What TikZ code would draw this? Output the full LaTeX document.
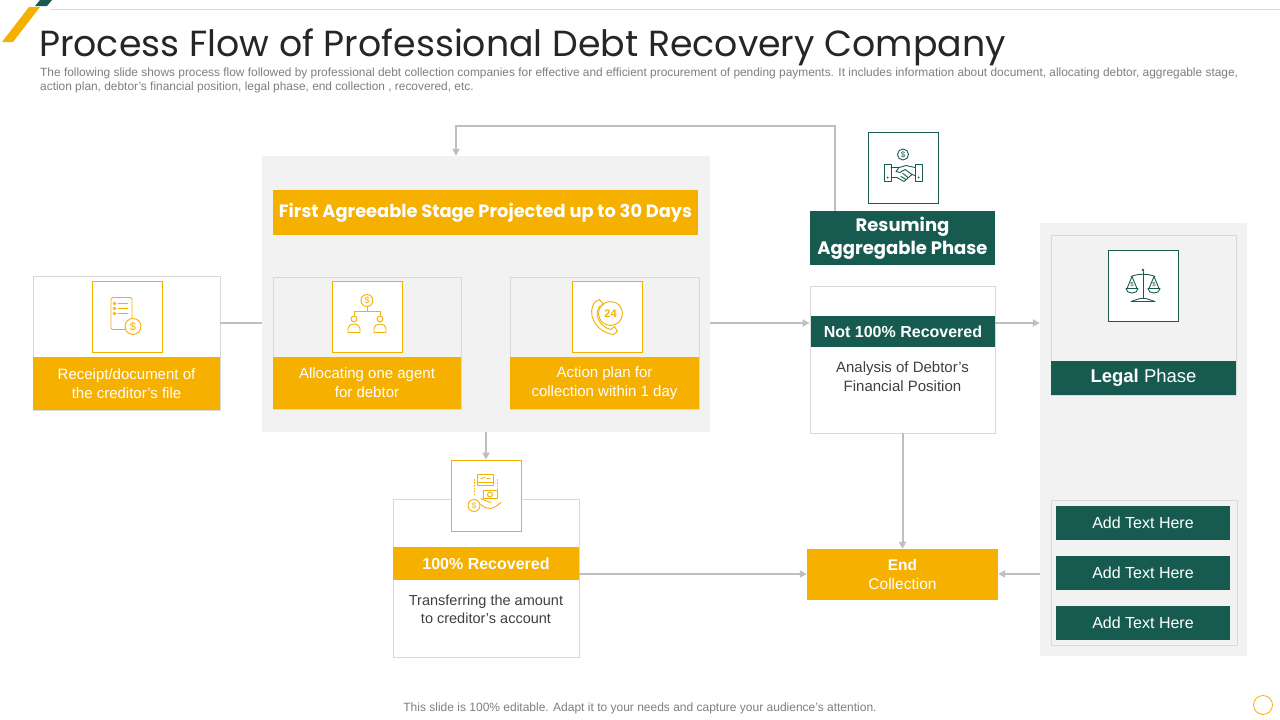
\documentclass[tikz,border=0pt]{standalone}
\usepackage{fontspec}
\setmainfont{Liberation Sans}
\newfontfamily\headfont{Poppins}
\usepackage{tikz}
\usetikzlibrary{arrows.meta}
\definecolor{gold}{RGB}{245,176,0}
\definecolor{pine}{RGB}{23,91,80}
\definecolor{panel}{RGB}{242,242,242}
\definecolor{rule}{RGB}{191,191,191}
\definecolor{cardline}{RGB}{217,217,217}
\definecolor{inkgray}{RGB}{64,64,64}
\definecolor{notegray}{RGB}{127,127,127}
\definecolor{titleink}{RGB}{38,38,38}

\begin{document}
\begin{tikzpicture}[x=1pt,y=1pt,yscale=-1,
  card/.style={draw=cardline,line width=0.8pt,inner sep=0pt},
  ybox/.style={draw=gold,fill=white,line width=0.8pt,minimum width=70,minimum height=71,inner sep=0pt},
  gbox/.style={draw=pine,fill=white,line width=0.8pt,minimum width=70,minimum height=71,inner sep=0pt},
  obar/.style={fill=gold,text=white,align=center,inner sep=0pt},
  gbar/.style={fill=pine,text=white,align=center,inner sep=0pt},
  link/.style={draw=rule,line width=2pt},
  flow/.style={link,-{Triangle[length=7pt,width=7pt]}},
  glyph/.style={line width=0.9pt,line cap=round,line join=round},
  bodytext/.style={font=\fontsize{15}{19}\selectfont}]
		\useasboundingbox (0,0) rectangle (1280,720);
		\fill[white] (0,0) rectangle (1280,720);

		%Straight Lines: top rule and corner strips
		\draw [cardline,line width=0.8pt] (50,9) -- (1280,9) ;
		\fill [gold] (2,42) -- (13,42) -- (40,7) -- (29,7) -- cycle ;
		\fill [pine] (35,6) -- (47,6) -- (52,0) -- (40,0) -- cycle ;

		% Text Node: title and subtitle
		\node [anchor=base west,inner sep=0pt,text=titleink,font=\headfont\fontsize{36.3}{40}\selectfont] (title) at (39,56) {Process Flow of Professional Debt Recovery Company};
		\node [anchor=base west,inner sep=0pt,text=notegray,font=\fontsize{11.9}{14}\selectfont,align=left] (subtitle) at (40,90) {The following slide shows process flow followed by professional debt collection companies for effective and efficient procurement of pending payments. It includes information about document, allocating debtor, aggregable stage,\\action plan, debtor's financial position, legal phase, end collection , recovered, etc.};

		%Shape: Rectangle (first agreeable stage panel)
		\node [fill=panel,minimum width=448,minimum height=276,inner sep=0pt] (stage) at (486,294) {};
		\node [obar,minimum width=425,minimum height=45,font=\headfont\bfseries\fontsize{17.8}{20}\selectfont] (stagehead) at (485.5,212.5) {First Agreeable Stage Projected up to 30 Days};

		%Shape: Rectangle (receipt card)
		\node [card,fill=white,minimum width=187,minimum height=134] (receipt) at (126.5,343) {};
		\node [ybox] (receipticon) at (127,316.5) {};
		\node [obar,minimum width=187,minimum height=53,bodytext] (receiptbar) at (126.5,383.5) {Receipt/document of\\the creditor's file};

		%Shape: Rectangle (agent card)
		\node [card,fill=panel,minimum width=188,minimum height=132] (agent) at (367,343) {};
		\node [ybox] (agenticon) at (367,316.5) {};
		\node [obar,minimum width=188,minimum height=52,bodytext] (agentbar) at (367,383) {Allocating one agent\\for debtor};

		%Shape: Rectangle (action plan card)
		\node [card,fill=panel,minimum width=189,minimum height=132] (plan) at (604.5,343) {};
		\node [ybox] (planicon) at (607.5,316.5) {};
		\node [obar,minimum width=189,minimum height=52,bodytext] (planbar) at (604.5,383) {Action plan for\\collection within 1 day};

		%Shape: Rectangle (resuming phase)
		\node [gbox] (resumeicon) at (903,167.5) {};
		\node [gbar,minimum width=185,minimum height=54,font=\headfont\bfseries\fontsize{18}{23}\selectfont] (resume) at (902.5,238) {Resuming\\Aggregable Phase};

		%Shape: Rectangle (not recovered card)
		\node [card,fill=white,minimum width=185,minimum height=147] (notfull) at (902.5,359.5) {};
		\node [gbar,minimum width=184,minimum height=31,font=\bfseries\fontsize{16}{19}\selectfont] (notfullbar) at (903,331.5) {Not 100\% Recovered};
		\node [text=inkgray,align=center,bodytext] (notfulltext) at (902.5,377) {Analysis of Debtor's\\Financial Position};

		%Shape: Rectangle (legal phase panel)
		\node [fill=panel,minimum width=207,minimum height=433,inner sep=0pt] (legal) at (1143.5,439.5) {};
		\node [card,fill=panel,minimum width=185,minimum height=160] (legaltop) at (1143.5,315) {};
		\node [gbox] (legalicon) at (1143,285.5) {};
		\node [gbar,minimum width=185,minimum height=34,font=\fontsize{18.5}{21}\selectfont] (legalbar) at (1143.5,378) {\textbf{Legal} Phase};
		\node [card,fill=panel,minimum width=186,minimum height=145] (legallist) at (1144,572.5) {};
		\foreach \y [count=\i] in {523,573,623}
			\node [gbar,minimum width=174,minimum height=34,font=\fontsize{16}{19}\selectfont] (note\i) at (1143,\y) {Add Text Here};

		%Shape: Rectangle (end collection)
		\node [obar,minimum width=191,minimum height=51,font=\fontsize{15.5}{19}\selectfont] (endc) at (902.5,574.5) {\textbf{End}\\Collection};

		%Shape: Rectangle (recovered card)
		\node [card,fill=white,minimum width=186,minimum height=158] (recov) at (486,578) {};
		\node [ybox] (recovicon) at (486,495.5) {};
		\node [obar,minimum width=186,minimum height=33,font=\bfseries\fontsize{16}{19}\selectfont] (recovbar) at (486,563.5) {100\% Recovered};
		\node [text=inkgray,align=center,font=\fontsize{14.5}{18}\selectfont] (recovtext) at (486,609) {Transferring the amount\\to creditor's account};

		%Straight Lines (connectors)
		\coordinate (midrow) at (0,323);
		\coordinate (endrow) at (0,574);
		\coordinate (back) at (835,126);
		\coordinate (land) at (456,126);
		\draw [link] (receipt.east |- midrow) -- (stage.west |- midrow) ;
		\draw [flow] (stage.east |- midrow) -- (notfull.west |- midrow) ;
		\draw [flow] (notfull.east |- midrow) -- (legal.west |- midrow) ;
		\draw [flow] (stage.south) -- (recovicon.north) ;
		\draw [flow] (notfull.south) -- (endc.north) ;
		\draw [flow] (recovbar.east |- endrow) -- (endc.west |- endrow) ;
		\draw [flow] (legal.west |- endrow) -- (endc.east |- endrow) ;
		\draw [flow] (resume.north -| back) -- (back) -- (land) -- (land |- stage.north) ;

		%Icon: receipt with coin
		\begin{scope}[shift={(receipticon.center)},draw=gold]
			\draw [glyph,rounded corners=1.5] (-16,-19) rectangle (5,13) ;
			\foreach \y in {-13,-8,-3} {
				\draw [glyph] (-12.5,\y) circle (1.3) ;
				\draw [glyph] (-9,\y) -- (1,\y) ;
			}
			\filldraw [glyph,fill=white] (6,10) circle (8) ;
			\node [text=gold,font=\fontsize{11}{11}\selectfont] at (6,10) {\$};
		\end{scope}

		%Icon: agent tree
		\begin{scope}[shift={(agenticon.center)},draw=gold]
			\draw [glyph] (0,-16) circle (6) ;
			\node [text=gold,font=\fontsize{9}{9}\selectfont] at (0,-16) {\$};
			\draw [glyph] (0,-10) -- (0,-5) (-13,-1) -- (-13,-5) -- (13,-5) -- (13,-1) ;
			\foreach \x in {-13,13} {
				\draw [glyph] (\x,2.5) circle (3) ;
				\draw [glyph] (\x-6,16) -- (\x-6,12) .. controls (\x-6,6) and (\x+6,6) .. (\x+6,12) -- (\x+6,16) -- cycle ;
			}
		\end{scope}

		%Icon: phone 24
		\begin{scope}[shift={(planicon.center)},draw=gold]
			\draw [glyph] (3,-3) circle (12) ;
			\node [text=gold,font=\bfseries\fontsize{11}{11}\selectfont] at (3,-3) {24};
			\draw [glyph] (-12,-15) .. controls (-22,-4) and (-12,16) .. (6,18) ;
			\draw [glyph] (-8,-10) .. controls (-14,-2) and (-8,10) .. (3,13) ;
			\draw [glyph] (-12,-15) -- (-8,-17) -- (-4,-12) -- (-8,-10) ;
			\draw [glyph] (6,18) -- (10,15) -- (7,10) -- (3,13) ;
		\end{scope}

		%Icon: handshake
		\begin{scope}[shift={(resumeicon.center)},draw=pine]
			\draw [glyph] (0,-13) circle (5.5) ;
			\node [text=pine,font=\fontsize{8}{8}\selectfont] at (0,-13) {\$};
			\draw [glyph] (-19,-3) rectangle (-12,14) (12,-3) rectangle (19,14) ;
			\fill [pine] (-15.5,10) circle (1) (15.5,10) circle (1) ;
			\draw [glyph] (-12,0) -- (-4,0) -- (3,-2) -- (12,0) ;
			\draw [glyph] (-12,10) -- (-6,10) -- (1,14) -- (9,7) -- (12,8) ;
			\draw [glyph] (-4,0) -- (-7,4) -- (-3,5) -- (2,2) -- (9,7) ;
			\draw [glyph] (0,6) -- (5,10) (-2,9) -- (3,12) ;
		\end{scope}

		%Icon: scales
		\begin{scope}[shift={(legalicon.center)},draw=pine]
			\draw [glyph] (0,-14) -- (0,13) ;
			\fill [pine] (0,-15.5) circle (1.4) ;
			\draw [glyph] (-12,-9) .. controls (-5,-12) and (5,-12) .. (12,-9) ;
			\foreach \x in {-11,11} {
				\draw [glyph] (\x-5,3) -- (\x,-9) -- (\x+5,3) ;
				\draw [glyph] (\x-6,3) .. controls (\x-6,9) and (\x+6,9) .. (\x+6,3) -- cycle ;
				\node [text=pine,font=\fontsize{6}{6}\selectfont] at (\x,-1) {\$};
			}
			\draw [glyph] (-3,13) -- (3,13) -- (12,16) -- (-12,16) -- cycle ;
		\end{scope}

		%Icon: money in hand
		\begin{scope}[shift={(recovicon.center)},draw=gold]
			\draw [glyph] (-9,-21) rectangle (7,-10) ;
			\draw [glyph] (-9,-13) -- (7,-13) (-5,-17) -- (-1,-18) (1,-17) -- (4,-17) ;
			\draw [glyph,dotted] (-12,-16) -- (-12,1) (11,-16) -- (11,1) ;
			\draw [glyph] (-3,-5) rectangle (11,3) ;
			\draw [glyph] (4,-1) circle (2.5) ;
			\draw [glyph] (-5,9) .. controls (1,15) and (7,14) .. (15,7) ;
			\draw [glyph] (-5,3) -- (-1,5) -- (5,7) ;
			\draw [glyph] (-12,10) circle (6) ;
			\node [text=gold,font=\fontsize{8}{8}\selectfont] at (-12,10) {\$};
		\end{scope}

		% Text Node: footer
		\node [text=notegray,font=\fontsize{12}{14}\selectfont] (footer) at (640,708) {This slide is 100\% editable. Adapt it to your needs and capture your audience's attention.};
		%Shape: Circle
		\draw [gold,line width=0.8pt] (1263,705) circle (9.5) ;
\end{tikzpicture}
\end{document}
